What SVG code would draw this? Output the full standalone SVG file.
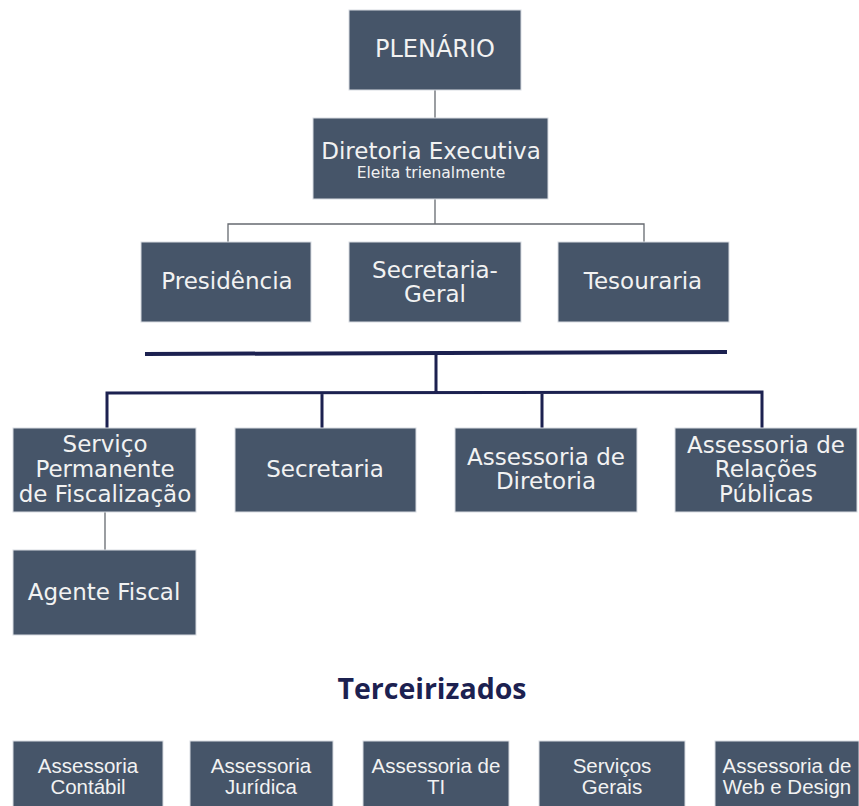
<svg xmlns="http://www.w3.org/2000/svg" width="859" height="806" viewBox="0 0 859 806">
<style>
.box{fill:#465569;stroke:#d8dce2;stroke-width:1}
.t{font-family:"DejaVu Sans","Open Sans",sans-serif;font-size:23px;fill:#f2f2f2;text-anchor:middle}
.s{font-family:"DejaVu Sans","Open Sans",sans-serif;font-size:15.5px;fill:#f2f2f2;text-anchor:middle}
.b{font-family:"Liberation Sans","Roboto",sans-serif;font-size:20.5px;fill:#f2f2f2;text-anchor:middle}
.thin{stroke:#666a70;stroke-width:1.3;fill:none}
.thick{stroke:#1c2150;stroke-width:3;fill:none}
.title{font-family:"Open Sans","Liberation Sans",sans-serif;font-weight:bold;font-size:28.5px;fill:#1c2150;text-anchor:middle}
</style>
<rect width="859" height="806" fill="#ffffff"/>
<g id="connectors">
<path class="thin" d="M435 90V118 M435 199V224 M228 242V224H644V242 M105 512V550"/>
<path class="thick" style="stroke-width:4" d="M145 354L727 352"/>
<path class="thick" d="M436 353V392 M107 428V393L762 392V428 M322 392V428 M542 392V428"/>
</g>
<g id="plenario"><rect class="box" x="349" y="10" width="172" height="80"/><text class="t" x="435" y="57" style="font-size:24px">PLENÁRIO</text></g>
<g id="diretoria"><rect class="box" x="313" y="118" width="235" height="81"/><text class="t" x="431" y="159">Diretoria Executiva</text><text class="s" x="431" y="178">Eleita trienalmente</text></g>
<g id="presidencia"><rect class="box" x="141" y="242" width="170" height="80"/><text class="t" x="227" y="289">Presidência</text></g>
<g id="secgeral"><rect class="box" x="349" y="242" width="172" height="80"/><text class="t" x="435" y="278">Secretaria-</text><text class="t" x="435" y="302">Geral</text></g>
<g id="tesouraria"><rect class="box" x="558" y="242" width="171" height="80"/><text class="t" x="643" y="289">Tesouraria</text></g>
<g id="servico"><rect class="box" x="13" y="428" width="183" height="84"/><text class="t" x="105" y="452">Serviço</text><text class="t" x="105" y="477">Permanente</text><text class="t" x="105" y="502">de Fiscalização</text></g>
<g id="secretaria"><rect class="box" x="235" y="428" width="181" height="84"/><text class="t" x="325" y="477">Secretaria</text></g>
<g id="assdiretoria"><rect class="box" x="455" y="428" width="182" height="84"/><text class="t" x="546" y="465">Assessoria de</text><text class="t" x="546" y="489">Diretoria</text></g>
<g id="assrp"><rect class="box" x="675" y="428" width="182" height="84"/><text class="t" x="766" y="453">Assessoria de</text><text class="t" x="766" y="477">Relações</text><text class="t" x="766" y="502">Públicas</text></g>
<g id="agente"><rect class="box" x="13" y="550" width="183" height="85"/><text class="t" x="104" y="600">Agente Fiscal</text></g>
<text class="title" x="432" y="699">Terceirizados</text>
<g id="contabil"><rect class="box" x="13" y="741" width="150" height="70"/><text class="b" x="88" y="773">Assessoria</text><text class="b" x="88" y="794">Contábil</text></g>
<g id="juridica"><rect class="box" x="190" y="741" width="143" height="70"/><text class="b" x="261" y="773">Assessoria</text><text class="b" x="261" y="794">Jurídica</text></g>
<g id="ti"><rect class="box" x="363" y="741" width="146" height="70"/><text class="b" x="436" y="773">Assessoria de</text><text class="b" x="436" y="794">TI</text></g>
<g id="servicos"><rect class="box" x="539" y="741" width="146" height="70"/><text class="b" x="612" y="773">Serviços</text><text class="b" x="612" y="794">Gerais</text></g>
<g id="webdesign"><rect class="box" x="715" y="741" width="144" height="70"/><text class="b" x="787" y="773">Assessoria de</text><text class="b" x="787" y="794">Web e Design</text></g>
</svg>
